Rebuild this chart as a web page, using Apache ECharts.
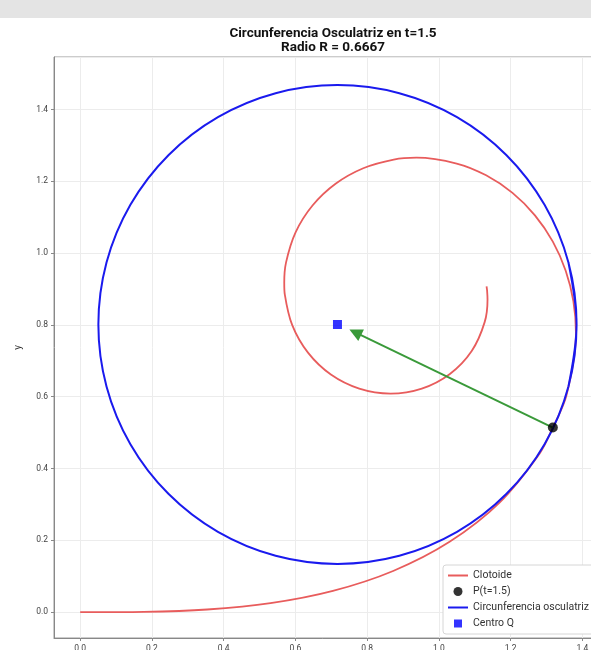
<!DOCTYPE html>
<html>
<head>
<meta charset="utf-8">
<script src="https://cdn.jsdelivr.net/npm/echarts@6/dist/echarts.min.js"></script>
<style>
html,body{margin:0;padding:0;background:#fff;}
#chart{width:591px;height:650px;}
</style>
</head>
<body>
<div id="chart"></div>
<script>
// Clothoid points
const clotoideX = [0.0000, 0.1771, 0.3543, 0.5307, 0.7046, 0.8726, 1.0300, 1.1693, 1.2812, 1.3180, 1.3556, 1.3824, 1.3753, 1.3538, 1.3179, 1.2680, 1.2054, 1.1319, 1.0498, 0.9374, 0.8743, 0.7893, 0.7121, 0.6478, 0.6006, 0.5739, 0.5690, 0.5705, 0.5913, 0.6352, 0.6990, 0.7781, 0.8653, 0.9525, 1.0309, 1.0917, 1.1278, 1.1358, 1.1346, 1.1331];
const clotoideY = [0.0000, 0.0009, 0.0074, 0.0250, 0.0592, 0.1147, 0.1959, 0.3050, 0.4419, 0.5140, 0.6023, 0.7769, 0.8652, 0.9509, 1.0318, 1.1050, 1.1675, 1.2165, 1.2494, 1.2655, 1.2604, 1.2363, 1.1931, 1.1325, 1.0578, 0.9734, 0.9168, 0.8851, 0.7992, 0.7226, 0.6617, 0.6225, 0.6087, 0.6226, 0.6634, 0.7273, 0.8077, 0.8710, 0.8956, 0.9075];
// Osculating circle points
const circuloX = [1.3614, 1.3841, 1.3614, 1.2948, 1.1888, 1.0507, 0.8899, 0.7174, 0.5449, 0.3841, 0.2460, 0.1400, 0.0734, 0.0507, 0.0734, 0.1400, 0.2460, 0.3841, 0.5449, 0.7174, 0.8899, 1.0507, 1.1888, 1.2948, 1.3614, 1.3841, 1.3614];
const circuloY = [0.6286, 0.8011, 0.9736, 1.1344, 1.2725, 1.3785, 1.4451, 1.4678, 1.4451, 1.3785, 1.2725, 1.1344, 0.9736, 0.8011, 0.6286, 0.4678, 0.3297, 0.2237, 0.1571, 0.1344, 0.1571, 0.2237, 0.3297, 0.4678, 0.6286, 0.8011, 0.9736];
const puntoP = [1.318, 0.514];
const centroQ = [0.7174, 0.8011];
const flechaFin = [0.767, 0.779];
const legendNames = ['Clotoide', 'P(t=1.5)', 'Circunferencia osculatriz', 'Centro Q'];

const zip = (xs, ys) => xs.map((x, i) => [x, ys[i]]);
const FONT = 'Roboto';
const ICON_LINE = 'path://M0,0L0,0M20,9L20,9M0,3.5L20,3.5L20,5.5L0,5.5Z';
const ICON_CIRCLE = 'path://M0,0L0,0M20,9L20,9M14.5,4.5A4.5,4.5,0,1,1,5.5,4.5A4.5,4.5,0,1,1,14.5,4.5Z';
const ICON_SQUARE = 'path://M0,0L0,0M20,9L20,9M6,0.5L14,0.5L14,8.5L6,8.5Z';

const chart = echarts.init(document.getElementById('chart'), null, {renderer: 'canvas'});
chart.setOption({
  animation: false,
  backgroundColor: '#ffffff',
  graphic: [{
    type: 'rect', left: 0, top: 0, shape: {width: 591, height: 18},
    style: {fill: '#e4e4e4'}, z: -10, silent: true
  }],
  title: {
    text: 'Circunferencia Osculatriz en t=1.5\nRadio R = 0.6667',
    left: 328, top: 21, textAlign: 'center',
    textStyle: {fontFamily: FONT, fontWeight: 'bold', fontSize: 13.5, lineHeight: 14.5, color: '#111'}
  },
  grid: {
    left: 54, top: 57, width: 548, height: 581,
    outerBoundsMode: 'none', containLabel: false,
    show: true, borderColor: '#999', borderWidth: 1, backgroundColor: '#fff'
  },
  legend: {
    orient: 'vertical', left: 443, top: 565,
    padding: [5, 8, 5, 5], itemGap: 5, itemWidth: 20, itemHeight: 9,
    backgroundColor: '#fff', borderColor: '#d6d6d6', borderWidth: 1, borderRadius: 3,
    textStyle: {fontFamily: FONT, fontSize: 10.5, color: '#333'},
    data: [
      {name: legendNames[0], icon: ICON_LINE, itemStyle: {color: '#e85c5c'}},
      {name: legendNames[1], icon: ICON_CIRCLE, itemStyle: {color: '#000'}},
      {name: legendNames[2], icon: ICON_LINE, itemStyle: {color: '#1a1aee'}},
      {name: legendNames[3], icon: ICON_SQUARE, itemStyle: {color: '#0000ff'}}
    ]
  },
  xAxis: {
    type: 'value', min: -0.073, max: 1.455, splitNumber: 8,
    name: 'x', nameLocation: 'middle', nameGap: 22,
    nameTextStyle: {fontFamily: FONT, fontSize: 10, color: '#333'},
    axisLine: {show: true, onZero: false, lineStyle: {color: '#888', width: 1}},
    axisTick: {show: true, length: 3, lineStyle: {color: '#888'}},
    axisLabel: {fontFamily: FONT, fontSize: 8.5, color: '#444', margin: 6, showMinLabel: false, showMaxLabel: false,
      formatter: v => v.toFixed(1)},
    splitLine: {show: true, lineStyle: {color: '#ececec', width: 1}}
  },
  yAxis: {
    type: 'value', min: -0.072, max: 1.546, splitNumber: 8,
    name: 'y', nameLocation: 'middle', nameGap: 31,
    nameTextStyle: {fontFamily: FONT, fontSize: 10, color: '#333'},
    axisLine: {show: true, onZero: false, lineStyle: {color: '#888', width: 1}},
    axisTick: {show: true, length: 3, lineStyle: {color: '#888'}},
    axisLabel: {fontFamily: FONT, fontSize: 8.5, color: '#444', margin: 6, showMinLabel: false, showMaxLabel: false,
      formatter: v => v.toFixed(1)},
    splitLine: {show: true, lineStyle: {color: '#ececec', width: 1}}
  },
  series: [
    {
      name: 'Clotoide', type: 'line', data: zip(clotoideX, clotoideY),
      smooth: 0.3, symbol: 'none', showSymbol: false,
      lineStyle: {color: '#e85c5c', width: 1.8}, itemStyle: {color: '#e85c5c'}, z: 2
    },
    {
      name: 'Circunferencia osculatriz', type: 'line', data: zip(circuloX, circuloY),
      smooth: 0.35, symbol: 'none', showSymbol: false,
      lineStyle: {color: '#1a1aee', width: 2}, itemStyle: {color: '#1a1aee'}, z: 3
    },
    {
      name: 'P(t=1.5)', type: 'scatter', data: [puntoP], symbol: 'circle', symbolSize: 10,
      itemStyle: {color: '#000000'}, z: 6,
      markLine: {
        silent: true, symbol: ['none', 'triangle'], symbolSize: 13,
        label: {show: false},
        itemStyle: {color: '#3a9a3a'},
        lineStyle: {color: '#3a9a3a', width: 2, type: 'solid', opacity: 1},
        emphasis: {disabled: true},
        data: [[{coord: puntoP}, {coord: flechaFin}]]
      }
    },
    {
      name: 'Centro Q', type: 'scatter', data: [centroQ], symbol: 'rect', symbolSize: 9,
      itemStyle: {color: '#0000ff'}, z: 6
    }
  ]
});
</script>
</body>
</html>
